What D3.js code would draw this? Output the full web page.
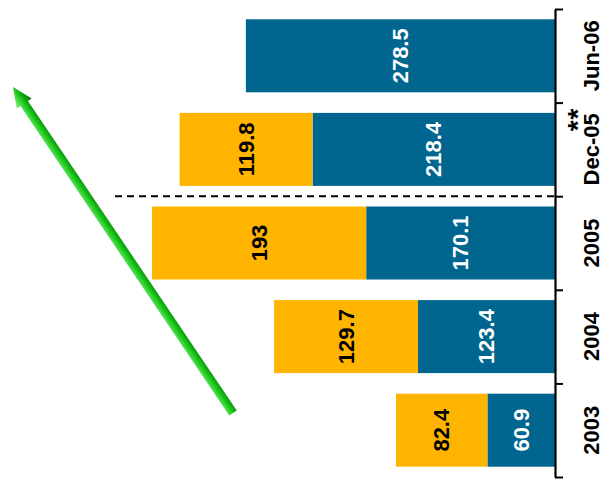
<!DOCTYPE html>
<html>
<head>
<meta charset="utf-8">
<script src="https://cdn.jsdelivr.net/npm/d3@7"></script>
<style>
  html, body { margin: 0; padding: 0; background: #fff; }
  svg { display: block; font-family: "Liberation Sans", Arial, sans-serif; }
</style>
</head>
<body>
<svg id="chart" width="603" height="487"></svg>
<script>
// Periods, bottom to top along the right-hand axis
const categories = ["2003", "2004", "2005", "Dec-05", "Jun-06"];
// Inner (blue) segment, starting at the axis
const blueValues = [60.9, 123.4, 170.1, 218.4, 278.5];
// Outer (orange) segment, stacked on the blue one
const orangeValues = [82.4, 129.7, 193, 119.8, null];
// Footnote markers attached to category labels
const markers = ["", "", "", "**", ""];

const BLUE = "#006690";
const ORANGE = "#FFB400";

const svg = d3.select("#chart");

const axisX = 555, axisTop = 9, axisBottom = 477;

// Categories run top to bottom: newest first
const y = d3.scaleBand()
  .domain(categories.slice().reverse())
  .range([axisTop, axisBottom])
  .paddingInner(0.22)
  .paddingOuter(0.11);

// Values grow leftward from the axis
const x = d3.scaleLinear().domain([0, 500]).range([axisX, 0]);

const rows = categories.map((c, i) => ({
  cat: c, blue: blueValues[i], orange: orangeValues[i], marker: markers[i]
}));

// Green trend arrow
(function drawArrow() {
  const x0 = 233, y0 = 413, x1 = 13, y1 = 87;
  const L = Math.hypot(x1 - x0, y1 - y0);
  const ang = Math.atan2(y1 - y0, x1 - x0) * 180 / Math.PI;
  const defs = svg.append("defs");
  const g = defs.append("linearGradient")
    .attr("id", "arrowGrad")
    .attr("gradientUnits", "userSpaceOnUse")
    .attr("x1", 0).attr("y1", -9).attr("x2", 0).attr("y2", 9);
  g.append("stop").attr("offset", "0%").attr("stop-color", "#8ef08e");
  g.append("stop").attr("offset", "35%").attr("stop-color", "#3fd83f");
  g.append("stop").attr("offset", "55%").attr("stop-color", "#16c016");
  g.append("stop").attr("offset", "75%").attr("stop-color", "#0a9a0a");
  g.append("stop").attr("offset", "100%").attr("stop-color", "#056a05");
  const headLen = 20, headW = 9, shaftW = 4.5;
  const pts = [
    [0, -shaftW], [L - headLen, -shaftW], [L - headLen, -headW], [L, 0],
    [L - headLen, headW], [L - headLen, shaftW], [0, shaftW]
  ];
  svg.append("g")
    .attr("transform", `translate(${x0},${y0}) rotate(${ang})`)
    .append("polygon")
    .attr("points", pts.map(p => p.join(",")).join(" "))
    .attr("fill", "url(#arrowGrad)");
})();

// Blue segments
svg.append("g").selectAll("rect")
  .data(rows)
  .join("rect")
  .attr("x", d => x(d.blue))
  .attr("y", d => y(d.cat))
  .attr("width", d => x(0) - x(d.blue))
  .attr("height", y.bandwidth())
  .attr("fill", BLUE);

// Orange segments
const withOrange = rows.filter(d => d.orange != null);
svg.append("g").selectAll("rect")
  .data(withOrange)
  .join("rect")
  .attr("x", d => x(d.blue + d.orange))
  .attr("y", d => y(d.cat))
  .attr("width", d => x(d.blue) - x(d.blue + d.orange))
  .attr("height", y.bandwidth())
  .attr("fill", ORANGE);

// Value labels, rotated and centered in each segment
function valueLabel(sel, cx, text, color) {
  sel.append("text")
    .attr("transform", d => `translate(${cx(d)},${y(d.cat) + y.bandwidth() / 2}) rotate(-90)`)
    .attr("text-anchor", "middle")
    .attr("dy", "0.35em")
    .attr("font-size", 22)
    .attr("font-weight", "bold")
    .attr("fill", color)
    .text(text);
}
const blueLbl = svg.append("g").selectAll("g").data(rows).join("g");
valueLabel(blueLbl, d => (x(0) + x(d.blue)) / 2, d => d.blue, "#fff");
const orLbl = svg.append("g").selectAll("g").data(withOrange).join("g");
valueLabel(orLbl, d => (x(d.blue) + x(d.blue + d.orange)) / 2, d => d.orange, "#000");

// Dashed divider between the annual and the half-year figures
const divY = (y("2005") + y("Dec-05") + y.bandwidth()) / 2;
svg.append("line")
  .attr("x1", 115).attr("x2", axisX)
  .attr("y1", divY).attr("y2", divY)
  .attr("stroke", "#000")
  .attr("stroke-width", 2)
  .attr("stroke-dasharray", "7,5");

// Category axis on the right, ticks at band boundaries
const edge = d3.scaleLinear().domain([0, categories.length]).range([axisTop, axisBottom]);
const axis = svg.append("g")
  .attr("transform", `translate(${axisX},0)`)
  .call(d3.axisRight(edge)
    .tickValues(d3.range(categories.length + 1))
    .tickFormat("")
    .tickSize(8)
    .tickSizeOuter(0));
axis.select(".domain").attr("stroke", "#000").attr("stroke-width", 2.2);
axis.selectAll(".tick line").attr("stroke", "#000").attr("stroke-width", 2);

// Category labels
const catG = svg.append("g").selectAll("g").data(rows).join("g")
  .attr("transform", d => `translate(591,${y(d.cat) + y.bandwidth() / 2}) rotate(-90)`);
catG.append("text")
  .attr("text-anchor", "middle")
  .attr("dy", "0.35em")
  .attr("font-size", 22)
  .attr("font-weight", "bold")
  .attr("fill", "#000")
  .text(d => d.cat);
// Footnote marker set above the end of its label
catG.filter(d => d.marker)
  .append("text")
  .attr("x", 30)
  .attr("y", -4)
  .attr("text-anchor", "middle")
  .attr("font-size", 28)
  .attr("font-weight", "bold")
  .attr("letter-spacing", 1)
  .attr("fill", "#000")
  .text(d => d.marker);
</script>
</body>
</html>
